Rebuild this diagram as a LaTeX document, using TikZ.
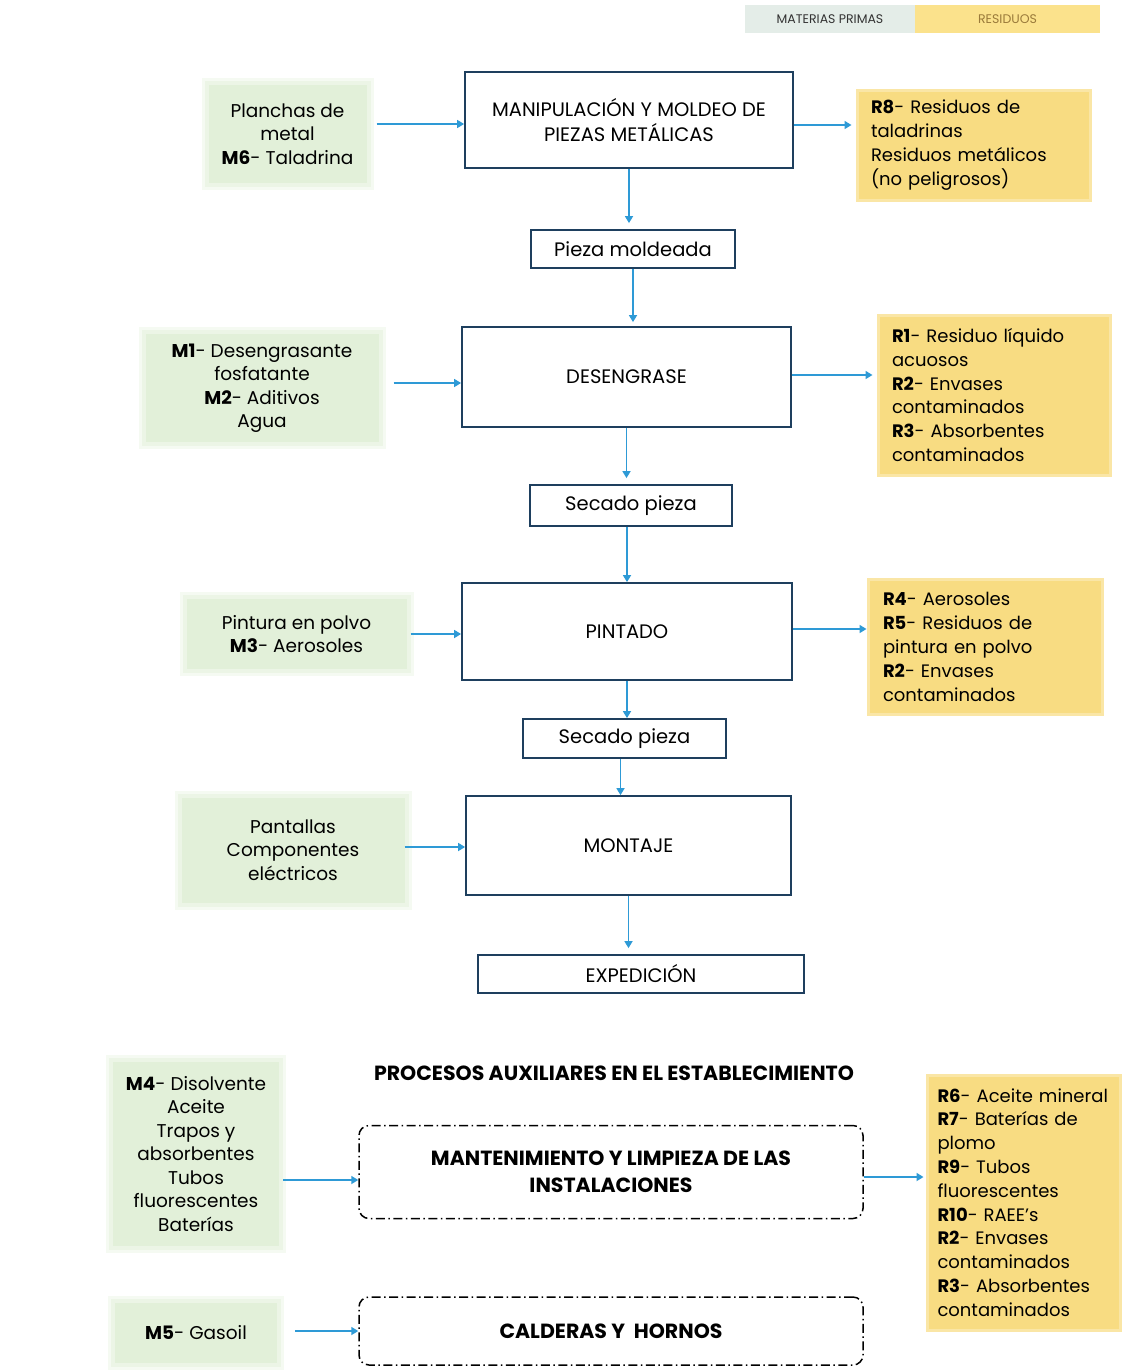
\documentclass[tikz,border=0pt]{standalone}
\usepackage{fontspec}
\setmainfont{Poppins}
\usetikzlibrary{arrows.meta}
\definecolor{boxline}{HTML}{1E3F5E}
\definecolor{arrowc}{HTML}{2E9AD6}
\definecolor{gfill}{HTML}{E2F0D9}
\definecolor{yfill}{HTML}{F8DC82}
\definecolor{yedge}{HTML}{FAE6A6}
\definecolor{legg}{HTML}{E4EDE8}
\definecolor{legy}{HTML}{FBE28C}
\definecolor{legyt}{HTML}{9A7A3A}
\tikzset{
  txt/.style={font=\fontsize{18.5}{23.5}\selectfont},
  ytxt/.style={font=\fontsize{18}{23.8}\selectfont},
  proc/.style={draw=boxline, line width=1.8pt, fill=white, font=\fontsize{19.5}{25}\selectfont, align=center, inner sep=0pt},
  gbox/.style={fill=gfill, preaction={draw=gfill!35, line width=14pt}, preaction={draw=gfill!65, line width=8pt}, txt, align=center, inner sep=0pt},
  ybox/.style={fill=yfill, draw=yedge, line width=3pt, ytxt, align=left, inner sep=0pt},
  aux/.style={draw=black, line width=1.5pt, rounded corners=10pt, dash pattern=on 9pt off 3.5pt on 1.5pt off 3.5pt, fill=white, align=center, inner sep=0pt, font=\fontsize{20.5}{27}\selectfont\bfseries},
  arr/.style={draw=arrowc, line width=1.6pt, -{Triangle[width=8pt,length=7pt]}},
}
\begin{document}
\begin{tikzpicture}[x=1pt,y=-1pt]
\useasboundingbox[fill=white] (0,0) rectangle (1145,1371);

% legend
\node[fill=legg, minimum width=170pt, minimum height=28pt, inner sep=0pt, font=\fontsize{12.5}{13}\selectfont, text=black!80] (leg1) at (830,19) {MATERIAS PRIMAS};
\node[fill=legy, minimum width=185pt, minimum height=28pt, inner sep=0pt, font=\fontsize{12.5}{13}\selectfont, text=legyt] (leg2) at (1007.5,19) {RESIDUOS};

% main flow
\node[proc, minimum width=328pt, minimum height=96pt] (manip) at (629,120) {MANIPULACIÓN Y MOLDEO DE\\PIEZAS METÁLICAS};
\node[gbox, minimum width=158pt, minimum height=98pt] (m6) at (287.5,134) {Planchas de\\metal\\\textbf{M6}- Taladrina};
\node[ybox, minimum width=233pt, minimum height=110pt, text width=205pt] (r8) at (973.5,145) {\textbf{R8}- Residuos de\\taladrinas\\Residuos metálicos\\(no peligrosos)};
\node[proc, minimum width=204pt, minimum height=38pt] (pieza) at (633,249) {Pieza moldeada};

\node[proc, minimum width=329pt, minimum height=100pt] (deseng) at (626.5,377) {DESENGRASE};
\node[gbox, minimum width=233pt, minimum height=108pt] (m1) at (262,388) {\textbf{M1}- Desengrasante\\fosfatante\\\textbf{M2}- Aditivos\\Agua};
\node[ybox, minimum width=232pt, minimum height=160pt, text width=204pt] (r1) at (994,395) {\textbf{R1}- Residuo líquido\\acuosos\\\textbf{R2}- Envases\\contaminados\\\textbf{R3}- Absorbentes\\contaminados};
\node[proc, minimum width=202pt, minimum height=41pt] (sec1) at (631,505.5) {Secado pieza};

\node[proc, minimum width=330pt, minimum height=97pt] (pint) at (627,631.5) {PINTADO};
\node[gbox, minimum width=220pt, minimum height=70pt] (m3) at (296.5,634) {Pintura en polvo\\\textbf{M3}- Aerosoles};
\node[ybox, minimum width=234pt, minimum height=135pt, text width=204pt] (r4) at (985,647) {\textbf{R4}- Aerosoles\\\textbf{R5}- Residuos de\\pintura en polvo\\\textbf{R2}- Envases\\contaminados};
\node[proc, minimum width=203pt, minimum height=39pt] (sec2) at (624.5,738.5) {Secado pieza};

\node[proc, minimum width=325pt, minimum height=99pt] (mont) at (628.5,845.5) {MONTAJE};
\node[gbox, minimum width=223pt, minimum height=105pt] (pant) at (293,850) {Pantallas\\Componentes\\eléctricos};
\node[proc, minimum width=326pt, minimum height=38pt] (exped) at (641,974) {EXPEDICIÓN};

% auxiliary processes
\node[font=\fontsize{20.5}{22}\selectfont\bfseries, inner sep=0pt] (title) at (614,1073) {PROCESOS AUXILIARES EN EL ESTABLECIMIENTO};
\node[aux, minimum width=504pt, minimum height=93pt] (mant) at (611,1172) {MANTENIMIENTO Y LIMPIEZA DE LAS\\INSTALACIONES};
\node[gbox, minimum width=166pt, minimum height=184pt] (m4) at (196,1154) {\textbf{M4}- Disolvente\\Aceite\\Trapos y\\absorbentes\\Tubos\\fluorescentes\\Baterías};
\node[ybox, minimum width=193pt, minimum height=255pt, text width=172pt] (r6) at (1023.5,1202.5) {\textbf{R6}- Aceite mineral\\\textbf{R7}- Baterías de\\plomo\\\textbf{R9}- Tubos\\fluorescentes\\\textbf{R10}- RAEE's\\\textbf{R2}- Envases\\contaminados\\\textbf{R3}- Absorbentes\\contaminados};
\node[aux, minimum width=504pt, minimum height=68pt] (cald) at (611,1331) {CALDERAS Y \ HORNOS};
\node[gbox, minimum width=162pt, minimum height=60pt] (m5) at (196,1333) {\textbf{M5}- Gasoil};

% connectors
\draw[arr, shorten <=10pt] ([yshift=-4pt]manip.west -| m6.east) -- ([yshift=-4pt]manip.west);
\draw[arr, shorten >=4pt] ([yshift=-5pt]manip.east) -- ([yshift=-5pt]manip.east -| r8.west);
\draw[arr, shorten >=6pt] (manip.south) -- (manip.south |- pieza.north);
\draw[arr, shorten >=4pt] (pieza.south) -- (pieza.south |- deseng.north);

\draw[arr, shorten <=15pt] ([yshift=-6pt]deseng.west -| m1.east) -- ([yshift=-6pt]deseng.west);
\draw[arr, shorten >=4pt] ([yshift=2pt]deseng.east) -- ([yshift=2pt]deseng.east -| r1.west);
\draw[arr, shorten >=6pt] (deseng.south) -- (deseng.south |- sec1.north);
\draw[arr] ([xshift=-4pt]sec1.south) -- ([xshift=-4pt]sec1.south |- pint.north);

\draw[arr, shorten <=4pt] ([yshift=-2.5pt]pint.west -| m3.east) -- ([yshift=-2.5pt]pint.west);
\draw[arr] ([yshift=2.5pt]pint.east) -- ([yshift=2.5pt]pint.east -| r4.west);
\draw[arr] (pint.south) -- (pint.south |- sec2.north);
\draw[arr] ([xshift=-4pt]sec2.south) -- ([xshift=-4pt]sec2.south |- mont.north);

\draw[arr] ([yshift=-1.5pt]mont.west -| pant.east) -- ([yshift=-1.5pt]mont.west);
\draw[arr, shorten >=6pt] (mont.south) -- (mont.south |- exped.north);

\draw[arr, shorten <=4pt] ([yshift=-8pt]mant.west -| m4.east) -- ([yshift=-8pt]mant.west);
\draw[arr, shorten >=2pt] ([yshift=-5pt]mant.east) -- ([yshift=-5pt]mant.east -| r6.west);
\draw[arr, shorten <=18pt] (cald.west -| m5.east) -- (cald.west);
\end{tikzpicture}
\end{document}
